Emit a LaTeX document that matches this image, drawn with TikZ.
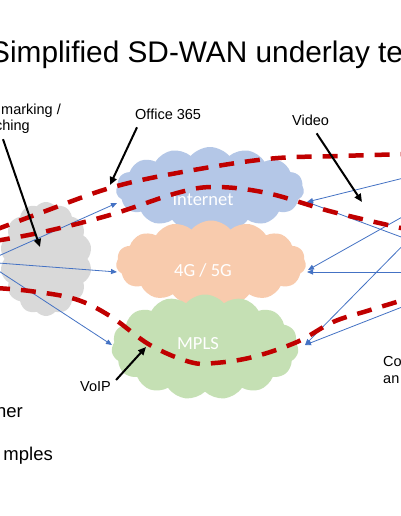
\documentclass[tikz,border=0pt]{standalone}
\usepackage{fontspec}
\setmainfont{Liberation Sans}
\newfontfamily\calib{Carlito}
\usetikzlibrary{shapes.symbols,arrows.meta}
\definecolor{cgray}{HTML}{D9D9D9}
\definecolor{cblue}{HTML}{B4C7E7}
\definecolor{corange}{HTML}{F8CBAD}
\definecolor{cgreen}{HTML}{C5E0B4}
\definecolor{lblue}{HTML}{4472C4}
\definecolor{dred}{HTML}{C00000}
\tikzset{
  cl/.style={cloud, cloud puffs=15, cloud puff arc=100, cloud ignores aspect, draw=none, inner sep=0pt},
  ctext/.style={inner sep=0pt, font=\calib\fontsize{18.5}{20}\selectfont, text=white},
  lbl/.style={inner sep=0pt, font=\fontsize{14.5}{17}\selectfont},
  bluearr/.style={draw=lblue, line width=0.8pt, -{Triangle[length=6pt,width=5pt]}},
  blkarr/.style={draw=black, line width=2pt, -{Triangle[length=8pt,width=7pt]}},
  reddash/.style={draw=dred, line width=4.5pt, dash pattern=on 15pt off 11pt}
}
\begin{document}
\begin{tikzpicture}[x=1pt,y=-1pt]
\useasboundingbox (0,0) rectangle (400,516);
\fill[white] (0,0) rectangle (400,516);
% title
\node[inner sep=0pt, anchor=base west, font=\fontsize{29.8}{34}\selectfont] (title) at (-10,63) {Simplified SD-WAN underlay te};
% clouds
\node[cl, fill=cgray, cloud puffs=14, minimum width=92pt, minimum height=114pt] (gray) at (46,259) {};
\node[cl, fill=cblue, minimum width=188pt, minimum height=84pt] (inet) at (210,189) {};
\node[cl, fill=corange, minimum width=190pt, minimum height=85pt] (fourg) at (211,263) {};
\node[cl, fill=cgreen, minimum width=187pt, minimum height=105pt] (mpls) at (205,347) {};
\node[ctext] (inettxt) at (203,200) {Internet};
\node[ctext] (fourgtxt) at (203,270) {4G / 5G};
\node[ctext] (mplstxt) at (198,344) {MPLS};
% labels
\node[lbl, anchor=base west] (mark) at (1,114) {marking /};
\node[lbl, anchor=base east] (ching) at (30,131) {ching};
\node[lbl, anchor=base west] (o365) at (135,119) {Office 365};
\node[lbl, anchor=base west] (video) at (292,125) {Video};
\node[lbl, anchor=base west] (voip) at (80,391) {VoIP};
\node[lbl, anchor=base west] (co) at (383,366) {Co};
\node[lbl, anchor=base west] (an) at (383,383) {an};
\node[inner sep=0pt, anchor=base east, font=\fontsize{18.5}{22}\selectfont] (ner) at (23,417) {ner};
\node[inner sep=0pt, anchor=base east, font=\fontsize{18.5}{22}\selectfont] (mples) at (53,460) {mples};
% coordinates for free ends
\coordinate (L) at (-15,262);
\coordinate (Ra) at (420,174);
\coordinate (Rb) at (420,244);
\coordinate (Rc) at (420,207);
\coordinate (Rd) at (420,272);
\coordinate (Re) at (420,228);
\coordinate (Rf) at (420,300);
% blue arrows
\draw[bluearr] (L) -- ([shift={(-93,14)}]inet.center);
\draw[bluearr] (L) -- ([shift={(-94,9)}]fourg.center);
\draw[bluearr] (L) -- ([shift={(-93,-2)}]mpls.center);
\draw[bluearr] (Ra) -- ([shift={(97,13)}]inet.center);
\draw[bluearr] (Rb) -- ([shift={(97,13)}]inet.center);
\draw[bluearr] (Rc) -- ([shift={(97,7)}]fourg.center);
\draw[bluearr] (Rd) -- ([shift={(96,9)}]fourg.center);
\draw[bluearr] (Re) -- ([shift={(100,-2)}]mpls.center);
\draw[bluearr] (Rf) -- ([shift={(100,-2)}]mpls.center);
% red dashed traffic paths
\draw[reddash] plot[smooth, tension=0.6] coordinates {(-5,230) (43,212) (110,188) (177,173) (267,159) (340,156) (410,154)};
\draw[reddash] plot[smooth, tension=0.6] coordinates {(-5,241) (43,232) (110,215) (177,193) (215,187) (267,193) (333,212) (410,230)};
\draw[reddash] plot[smooth, tension=0.6] coordinates {(-5,288) (30,291) (75,299) (110,316) (150,345) (190,362) (215,363) (253,357) (297,342) (333,322) (367,311) (410,298)};
% annotation arrows
\coordinate (tmark) at (40,247);
\coordinate (to365) at (110,185);
\coordinate (tvideo) at (362,202);
\coordinate (tvoip) at (146,347);
\draw[blkarr] ([shift={(-27,5)}]ching.south east) -- (tmark);
\draw[blkarr] ([shift={(2,8)}]o365.south west) -- (to365);
\draw[blkarr] ([shift={(6,8)}]video.south) -- (tvideo);
\draw[blkarr] ([shift={(5,-11)}]voip.base east) -- (tvoip);
\end{tikzpicture}
\end{document}
